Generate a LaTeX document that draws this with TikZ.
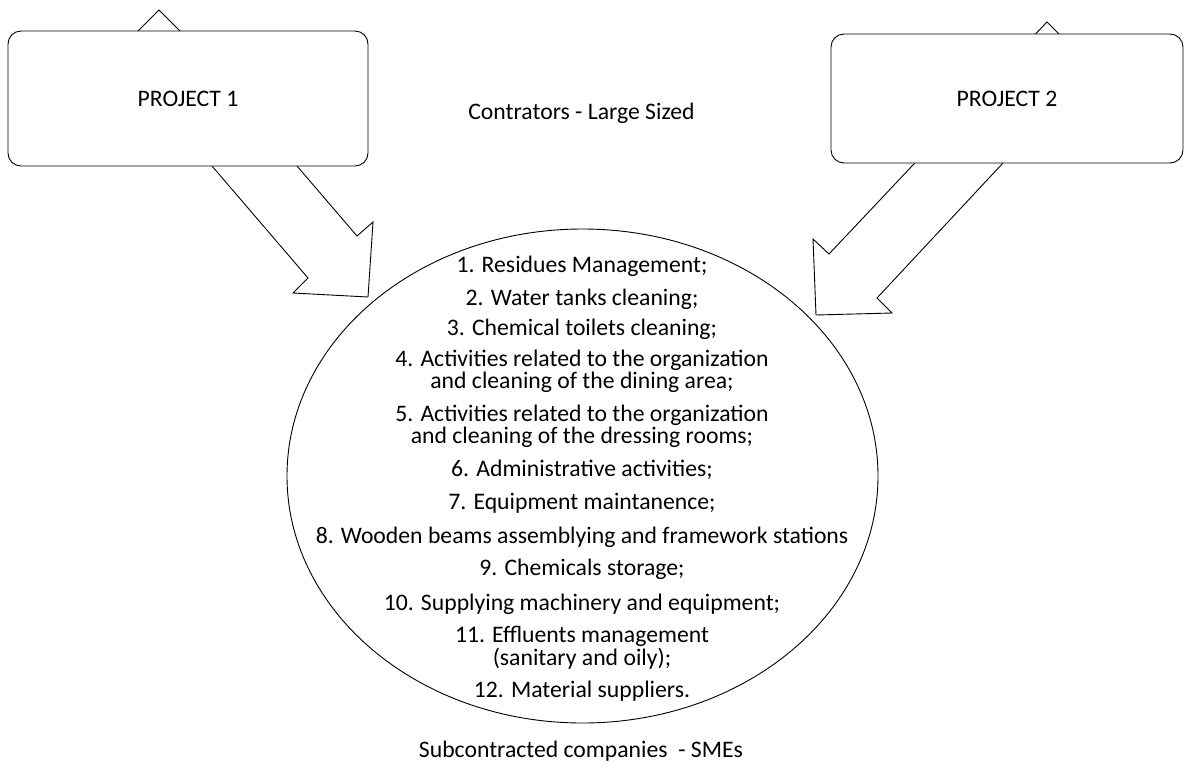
\documentclass[tikz,border=0pt]{standalone}
\usepackage{fontspec}
\setmainfont{Carlito}
\usetikzlibrary{shapes.geometric}
\begin{document}
\begin{tikzpicture}[x=1pt,y=-1pt,
  outline/.style={draw=black, line width=0.9pt, line join=miter, fill=white},
  projbox/.style={draw=black, line width=0.9pt, fill=white, rounded corners=13pt,
    inner sep=0pt, font=\fontsize{23.7}{20}\selectfont},
  txt/.style={anchor=base, inner sep=0pt, align=center, font=\fontsize{23.7}{20}\selectfont},
  circ/.style={draw=black, line width=0.9pt, ellipse, inner sep=0pt,
    minimum width=591pt, minimum height=494pt}]
\useasboundingbox (0,0) rectangle (1184,764);
% hidden arrow tips behind the project boxes
\draw[outline] (124,45) -- (159,10) -- (194,45) -- cycle;
\draw[outline] (1022,48) -- (1047,22) -- (1073,48) -- cycle;
% block arrows
\draw[outline] (200,152) -- (308,278) -- (293,293) -- (368,297) -- (373,222) -- (357,236) -- (285,152) -- cycle;
\draw[outline] (929,148) -- (829,254) -- (813,239) -- (816,315) -- (892,313) -- (877,298) -- (1017,148) -- cycle;
% project boxes
\node[projbox, minimum width=360pt, minimum height=135pt] (p1) at (188,98.5) {PROJECT 1};
\node[projbox, minimum width=352pt, minimum height=129pt] (p2) at (1007,98.5) {PROJECT 2};
% ellipse
\node[circ] (subs) at (582.5,476) {};
% captions
\node[txt] (top) at (581.5,119) {Contrators - Large Sized};
\node[txt] (bot) at (581,757) {Subcontracted companies \ - SMEs};
% items (base anchor = baseline of the last line)
\node[txt] (i1) at (582,272) {1. Residues Management;};
\node[txt] (i2) at (582,305) {2. Water tanks cleaning;};
\node[txt] (i3) at (582,335) {3. Chemical toilets cleaning;};
\node[txt] (i4) at (582,388) {4. Activities related to the organization\\and cleaning of the dining area;};
\node[txt] (i5) at (582,443) {5. Activities related to the organization\\and cleaning of the dressing rooms;};
\node[txt] (i6) at (582,476) {6. Administrative activities;};
\node[txt] (i7) at (582,509) {7. Equipment maintanence;};
\node[txt] (i8) at (582,543) {8. Wooden beams assemblying and framework stations};
\node[txt] (i9) at (582,575) {9. Chemicals storage;};
\node[txt] (i10) at (582,610) {10. Supplying machinery and equipment;};
\node[txt] (i11) at (582,665) {11. Effluents management\\(sanitary and oily);};
\node[txt] (i12) at (582,697) {12. Material suppliers.};
\end{tikzpicture}
\end{document}
